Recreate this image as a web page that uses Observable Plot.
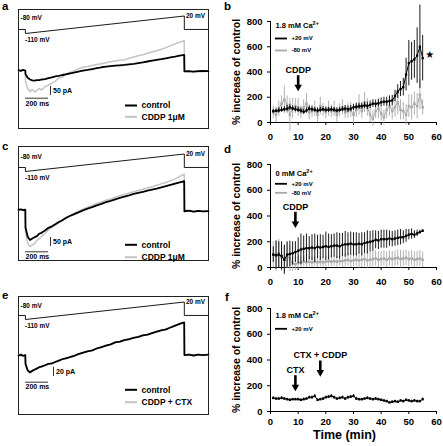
<!DOCTYPE html>
<html><head><meta charset="utf-8">
<script src="https://cdn.jsdelivr.net/npm/d3@7"></script>
<script src="https://cdn.jsdelivr.net/npm/@observablehq/plot@0.6"></script>
<style>
body{margin:0;background:#fff}
#fig{position:relative;width:443px;height:446px;overflow:hidden;font-family:"Liberation Sans",Arial,sans-serif;font-weight:bold}
.lt{position:absolute;font-size:11.5px;font-weight:bold;line-height:12px}
</style></head>
<body><div id="fig"></div>
<script>
// ---------- DATA ----------
// voltage protocol (ms, mV)
const protocolTime = [0, 60, 60, 1440, 1440, 1650];
const protocolMV = [-80, -80, -110, 20, -80, -80];
// current traces: sample times (ms) and currents (pA, relative to holding)
const traceTime = [0,20,40,59,61,80,100,120,140,160,180,200,230,260,290,320,350,380,410,440,480,520,560,600,640,680,720,760,800,840,880,920,960,1000,1040,1080,1120,1160,1200,1240,1280,1320,1360,1400,1439,1441,1480,1520,1560,1600,1650];
const aControl = [2,-2,3,0,-20,-40,-50,-55,-56,-53,-54,-50,-48,-42,-38,-33,-30,-25,-21,-17,-12,-6,-1,3,8,13,18,21,24,27,29,31,34,37,41,45,50,55,59,63,68,73,77,82,87,-5,-3,-6,-4,-2,-3];
const aCDDP = [0,-3,2,-1,-60,-100,-118,-105,-120,-110,-100,-108,-90,-82,-70,-60,-42,-38,-20,-12,-3,8,18,22,28,33,38,43,48,53,57,60,68,75,82,88,96,103,110,118,127,138,148,157,165,-6,-4,-8,-5,-7,-4];
const cControl = [0,3,-2,1,-100,-150,-168,-160,-152,-146,-133,-128,-115,-100,-92,-80,-68,-58,-46,-36,-25,-14,-3,6,15,25,33,43,50,58,66,73,80,88,94,100,106,112,118,125,131,138,145,152,159,-8,-5,-10,-6,-9,-7];
const cCDDP = [0,-2,2,-1,-120,-185,-205,-195,-188,-170,-160,-148,-132,-112,-98,-85,-72,-60,-47,-35,-20,-8,4,15,24,35,44,53,60,70,78,85,93,100,107,114,121,128,136,144,152,162,172,185,198,-10,-6,-12,-7,-10,-8];
const eControl = [0,2,-1,1,-18,-32,-36,-33,-30,-28,-25,-24,-21,-18,-17,-14,-11,-8,-6,-4,-1,3,6,9,11,15,18,21,24,28,30,33,35,38,40,43,45,48,51,54,56,60,64,68,71,1,2,0,2,1,2];
const eCDDPCTX = [1,-1,1,0,-20,-34,-38,-31,-32,-26,-26,-22,-22,-17,-18,-13,-12,-7,-7,-3,-2,4,5,10,10,16,17,22,23,29,29,34,34,39,39,44,44,49,50,55,55,61,63,69,70,0,3,-1,3,0,1];

// time courses (min 1..55), % increase of control
const minutes = d3.range(1, 56);
const b20Mean = [90,92,95,100,105,110,120,112,105,100,95,85,95,110,105,100,95,100,105,100,100,105,100,95,100,105,110,105,110,120,125,128,130,135,132,140,150,148,152,160,165,165,170,175,210,245,265,280,380,470,485,500,530,600,510];
const b20Err = [15,15,20,20,20,25,25,20,20,20,20,20,20,20,20,20,20,20,20,20,20,20,20,20,20,20,25,25,25,25,25,25,25,25,30,30,30,30,30,35,35,35,40,40,45,55,60,70,130,180,150,150,220,330,180];
const bM80Mean = [80,60,110,150,180,140,60,110,130,120,80,120,150,80,90,110,60,130,100,80,110,90,110,60,100,120,80,90,100,60,100,140,90,160,120,60,30,90,110,70,40,100,130,90,120,160,100,90,60,130,120,150,130,220,120];
const bM80Err = [50,60,60,60,110,70,130,80,60,70,50,60,80,60,50,60,60,70,50,50,60,50,60,60,50,60,50,60,60,70,60,80,60,80,70,60,60,60,80,60,60,70,80,70,80,100,80,70,80,90,100,90,100,120,60];
const d20Mean = [100,95,100,90,60,100,105,110,120,130,140,145,150,150,155,150,160,155,160,165,160,165,170,170,165,175,180,180,185,180,180,185,180,190,195,200,205,215,210,220,220,220,225,220,225,230,235,235,245,255,260,255,265,275,285];
const d20Err = [60,110,100,110,110,100,100,90,80,100,120,100,110,90,100,110,90,100,90,110,100,90,90,100,100,90,100,90,90,90,90,80,90,80,90,80,80,70,70,70,70,70,60,60,60,60,60,50,50,40,40,30,25,15,10];
const dM80Mean = [100,90,110,80,60,90,70,30,25,35,40,45,40,45,40,45,40,45,40,45,50,45,50,45,50,50,55,60,50,55,60,55,60,65,55,60,65,70,60,65,70,60,70,65,70,75,65,70,75,65,70,60,65,70,60];
const dM80Err = [100,120,110,110,120,100,100,60,50,50,40,40,40,40,40,40,40,40,40,40,40,40,40,40,40,50,50,50,50,50,50,60,60,60,60,60,60,60,60,60,60,60,60,60,60,60,70,60,60,60,60,60,60,60,60];
const f20Mean = [105,100,100,105,100,95,90,95,95,95,90,95,100,110,110,120,90,95,100,110,115,120,110,100,105,110,100,110,115,120,100,95,95,100,105,100,95,100,95,90,85,80,70,75,80,75,85,80,90,85,80,85,80,80,95];
const f20Err = [10,8,8,10,8,8,10,8,8,8,8,10,8,10,10,12,8,8,10,10,10,12,10,8,10,10,8,10,10,12,10,8,8,8,10,8,8,8,8,8,8,8,8,8,8,8,8,8,8,8,8,8,8,8,10];

const bEvents = [{label: "CDDP", t: 10}];
const dEvents = [{label: "CDDP", t: 9}];
const fEvents = [{label: "CTX", t: 9}, {label: "CTX + CDDP", t: 18}];

const yTicks = [0, 200, 400, 600, 800];
const xTicks = [0, 10, 20, 30, 40, 50, 60];

// ---------- LAYOUT ----------
const FONT = "'Liberation Sans', Arial, Helvetica, sans-serif";
const fig = document.getElementById("fig");
function place(el, left, top) {
  const d = document.createElement("div");
  d.style.cssText = `position:absolute;left:${left}px;top:${top}px;`;
  d.appendChild(el); fig.appendChild(d);
}
const baseStyle = {fontFamily: FONT, fontWeight: "bold", background: "transparent", overflow: "visible", color: "#000"};
const GRAYT = "#c4c4c4";

const leftPanels = [
  {top: 0, height: 140, boxTop: 9, boxBottom: 128, zero: 70, k: 0.18, v80: 29, v110: 33, v20: 15.5, ctrl: aControl, drug: aCDDP,
   drugLabel: "CDDP 1μM", barPA: 50, barX: 50, barTop: 86, barLabel: "50 pA", msBarY: 97.7, msTextY: 102.8, legY1: 105, legY2: 116.3, lab80dy: -12},
  {top: 140, height: 130, boxTop: 146, boxBottom: 260, zero: 209.3, k: 0.18, v80: 167, v110: 171, v20: 153.5, ctrl: cControl, drug: cCDDP,
   drugLabel: "CDDP 1μM", barPA: 50, barX: 50, barTop: 237, barLabel: "50 pA", msBarY: 251.3, msTextY: 256, legY1: 244.3, legY2: 256.7, lab80dy: -11},
  {top: 290, height: 130, boxTop: 296, boxBottom: 414, zero: 355, k: 0.466, v80: 315, v110: 319, v20: 301.5, ctrl: eControl, drug: eCDDPCTX,
   drugLabel: "CDDP + CTX", barPA: 20, barX: 53, barTop: 366.7, barLabel: "20 pA", msBarY: 381.7, msTextY: 386.3, legY1: 389.3, legY2: 401.7, lab80dy: -10}
];

for (const p of leftPanels) {
  const toT = px => (px - 18) / (190 / 1650);
  const toI = py => (p.zero - py) / p.k;
  const rows = vals => traceTime.map((t, i) => ({t, i: vals[i]}));
  const common = {width: 222, height: p.height, marginLeft: 18, marginRight: 14,
    marginTop: p.boxTop - p.top, marginBottom: p.top + p.height - p.boxBottom, style: baseStyle};
  const cur = Plot.plot({
    ...common,
    x: {domain: [0, 1650], axis: null},
    y: {domain: [-400, 400], range: [p.zero - p.top + 400 * p.k, p.zero - p.top - 400 * p.k], axis: null},
    marks: [
      Plot.frame({stroke: "#222", strokeWidth: 1}),
      Plot.line(rows(p.drug), {x: "t", y: "i", stroke: GRAYT, strokeWidth: 1.5}),
      Plot.line(rows(p.ctrl), {x: "t", y: "i", stroke: "#000", strokeWidth: 1.8}),
      Plot.ruleX([toT(p.barX)], {y1: toI(p.barTop), y2: toI(p.barTop) - p.barPA, stroke: "#000", strokeWidth: 0.8}),
      Plot.text([p.barLabel], {x: toT(p.barX + 2.5), y: toI(p.barTop) - p.barPA / 2, textAnchor: "start", fontSize: 7}),
      Plot.ruleY([toI(p.msBarY)], {x1: 61, x2: 261, stroke: "#000", strokeWidth: 0.8}),
      Plot.text(["200 ms"], {x: 61, y: toI(p.msTextY), textAnchor: "start", fontSize: 7}),
      Plot.ruleY([toI(p.legY1)], {x1: toT(125), x2: toT(137), stroke: "#000", strokeWidth: 2}),
      Plot.text(["control"], {x: toT(141), y: toI(p.legY1), textAnchor: "start", fontSize: 8.5}),
      Plot.ruleY([toI(p.legY2)], {x1: toT(125), x2: toT(137), stroke: GRAYT, strokeWidth: 2}),
      Plot.text([p.drugLabel], {x: toT(141), y: toI(p.legY2), textAnchor: "start", fontSize: 8.5})
    ]
  });
  place(cur, 0, p.top);
  const volt = Plot.plot({
    ...common,
    x: {domain: [0, 1650], axis: null},
    y: {domain: [-110, 20], range: [p.v110 - p.top, p.v20 - p.top], axis: null},
    marks: [
      Plot.line(protocolTime.map((t, i) => ({t, v: protocolMV[i]})), {x: "t", y: "v", stroke: "#000", strokeWidth: 0.9}),
      Plot.text(["-80 mV"], {x: toT(20), y: -80, dy: p.lab80dy, textAnchor: "start", fontSize: 6.5}),
      Plot.text(["-110 mV"], {x: toT(24.5), y: -110, dy: 6.5, textAnchor: "start", fontSize: 6.5}),
      Plot.text(["20 mV"], {x: toT(185.5), y: 20, textAnchor: "start", fontSize: 6.5})
    ]
  });
  place(volt, 0, p.top);
}

const rightPanels = [
  {top: 0, height: 150, mt: 21, mb: 28, title: "1.8 mM Ca2+", black: [b20Mean, b20Err], gray: [bM80Mean, bM80Err],
   events: bEvents, tips: [90.7], titleY: 25, leg1Y: 38, leg2Y: 50, star: [429.3, 54.3], pad: 7.5},
  {top: 150, height: 150, mt: 14, mb: 33, title: "0 mM Ca2+", black: [d20Mean, d20Err], gray: [dM80Mean, dM80Err],
   events: dEvents, tips: [227.3], titleY: 173.3, leg1Y: 183.3, leg2Y: 192.3, pad: 7.5},
  {top: 296, height: 150, mt: 12, mb: 35, title: "1.8 mM Ca2+", black: [f20Mean, f20Err], gray: null,
   events: fEvents, tips: [390.7, 376], titleY: 315, leg1Y: 328.3, xLabel: "Time (min)", pad: 4}
];

for (const p of rightPanels) {
  const x0 = 222 + 48, x1 = 443 - 7;
  const y0 = p.top + p.height - p.mb;
  const kY = (p.height - p.mt - p.mb) / 800;
  const xOf = px => (px - x0) / ((x1 - x0) / 60);
  const vOf = py => (y0 - py) / kY;
  const rows = ([m, e]) => minutes.map((t, i) => ({t, m: m[i], e: e[i]}));
  const marks = [
    Plot.ruleY([0]),
    Plot.ruleX([0], {y1: 0, y2: 800}),
    Plot.axisX({ticks: xTicks, tickSize: 3, tickPadding: p.pad, label: null, fontSize: 9.5}),
    Plot.axisY({ticks: yTicks, tickSize: 3, tickPadding: 5, label: null, fontSize: 9.5}),
    Plot.text(["% increase of control"], {frameAnchor: "left", textAnchor: "middle", rotate: -90, dx: -34, fontSize: 10.5})
  ];
  const GR = "#a8a8a8";
  if (p.gray) {
    const g = rows(p.gray);
    marks.push(
      Plot.ruleX(g, {x: "t", y1: d => d.m - d.e, y2: d => d.m + d.e, stroke: GR, strokeWidth: 0.9}),
      Plot.line(g, {x: "t", y: "m", stroke: GR, strokeWidth: 1}),
      Plot.dot(g, {x: "t", y: "m", symbol: "square", r: 1.4, fill: GR, stroke: null})
    );
  }
  const b = rows(p.black);
  marks.push(
    Plot.ruleX(b, {x: "t", y1: d => d.m - d.e, y2: d => d.m + d.e, stroke: "#000", strokeWidth: 0.9}),
    Plot.line(b, {x: "t", y: "m", stroke: "#000", strokeWidth: 1}),
    Plot.dot(b, {x: "t", y: "m", symbol: "square", r: 1.3, fill: "#000", stroke: null})
  );
  // legend
  marks.push(
    Plot.text([p.title], {x: xOf(275), y: vOf(p.titleY), textAnchor: "start", fontSize: 7.5}),
    Plot.ruleY([vOf(p.leg1Y)], {x1: xOf(275), x2: xOf(287), stroke: "#000", strokeWidth: 1.8}),
    Plot.text(["+20 mV"], {x: xOf(291), y: vOf(p.leg1Y), textAnchor: "start", fontSize: 6})
  );
  if (p.gray) marks.push(
    Plot.ruleY([vOf(p.leg2Y)], {x1: xOf(275), x2: xOf(287), stroke: GR, strokeWidth: 1.8}),
    Plot.text(["-80 mV"], {x: xOf(291), y: vOf(p.leg2Y), textAnchor: "start", fontSize: 6})
  );
  // event arrows
  const ev = p.events.map((e, i) => ({...e, tip: p.tips[i]}));
  marks.push(
    Plot.ruleX(ev, {x: "t", y1: d => vOf(d.tip - 15.5), y2: d => vOf(d.tip - 4.5), stroke: "#000", strokeWidth: 2.6}),
    Plot.dot(ev, {x: "t", y: d => vOf(d.tip - 4.2), symbol: "triangle", rotate: 180, r: 2.8, fill: "#000", stroke: null}),
    Plot.text(ev, {x: "t", y: d => vOf(d.tip - 21), text: "label", fontSize: 9})
  );
  if (p.star) marks.push(Plot.text(["★"], {x: xOf(p.star[0]), y: vOf(p.star[1]), fontSize: 10, fontFamily: "DejaVu Sans"}));
  if (p.xLabel) marks.push(Plot.text([p.xLabel], {frameAnchor: "bottom", dy: 27.5, dx: -9, fontSize: 12.5}));
  const svg = Plot.plot({
    width: 221, height: p.height, marginLeft: 48, marginRight: 7, marginTop: p.mt, marginBottom: p.mb,
    x: {domain: [0, 60]}, y: {domain: [0, 800]},
    style: baseStyle, marks
  });
  d3.select(svg).selectAll("text").each(function () {
    if (this.textContent.endsWith("Ca2+")) {
      this.textContent = this.textContent.slice(0, -2);
      d3.select(this).append("tspan").attr("dy", "-3").attr("font-size", "5.5").text("2+");
    }
  });
  place(svg, 222, p.top);
}

// panel letters
[["a", 2, 0], ["b", 224, 0], ["c", 2, 140], ["d", 224, 143], ["e", 2, 289], ["f", 225, 291]].forEach(([t, l, tp]) => {
  const s = document.createElement("div"); s.className = "lt"; s.textContent = t;
  s.style.left = l + "px"; s.style.top = tp + "px"; fig.appendChild(s);
});
</script></body></html>
